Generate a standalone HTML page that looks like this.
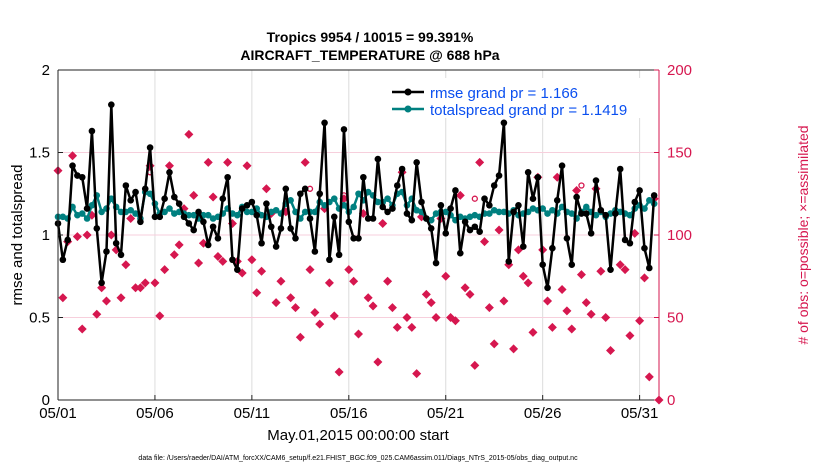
<!DOCTYPE html>
<html><head><meta charset="utf-8"><style>
body{margin:0;background:#fff;}
svg{display:block;font-family:"Liberation Sans",Arial,sans-serif;}
</style></head><body>
<svg id="chart" width="830" height="470">
<rect width="830" height="470" fill="#fff"/>
<text x="370" y="42" text-anchor="middle" font-size="14" font-weight="bold">Tropics 9954 / 10015 = 99.391%</text>
<text x="370" y="60" text-anchor="middle" font-size="14" font-weight="bold">AIRCRAFT_TEMPERATURE @ 688 hPa</text>
<g id="grid"></g>
<g id="marks"></g>
<g id="axes"></g>
<text transform="translate(22,235) rotate(-90)" text-anchor="middle" font-size="15">rmse and totalspread</text>
<text transform="translate(808,235) rotate(-90)" text-anchor="middle" font-size="14" fill="#d6174f"># of obs: o=possible; ×=assimilated</text>
<text x="358" y="440" text-anchor="middle" font-size="15">May.01,2015 00:00:00 start</text>
<text x="358" y="460" text-anchor="middle" font-size="7">data file: /Users/raeder/DAI/ATM_forcXX/CAM6_setup/f.e21.FHIST_BGC.f09_025.CAM6assim.011/Diags_NTrS_2015-05/obs_diag_output.nc</text>
<g>
<rect x="388" y="78" width="262" height="40" fill="#fff"/>
<line x1="392" y1="92" x2="424" y2="92" stroke="#000" stroke-width="2.5"/>
<circle cx="408" cy="92" r="3.5" fill="#000"/>
<text x="430" y="98" font-size="15" fill="#0a4ff0">rmse grand pr = 1.166</text>
<line x1="392" y1="109" x2="424" y2="109" stroke="#008080" stroke-width="2.5"/>
<circle cx="408" cy="109" r="3.5" fill="#008080"/>
<text x="430" y="115" font-size="15" fill="#0a4ff0">totalspread grand pr = 1.1419</text>
</g>
</svg>
<script>
const xTickLabels=["05/01","05/06","05/11","05/16","05/21","05/26","05/31"];
const xTickDays=[0,5,10,15,20,25,30];
const leftTicks=[0,0.5,1,1.5,2];
const rightTicks=[0,50,100,150,200];
const rmse=[1.07,0.85,0.97,1.42,1.36,1.35,1.16,1.63,1.04,0.71,0.9,1.79,0.95,0.88,1.3,1.21,1.26,1.08,1.28,1.53,1.11,1.11,1.22,1.38,1.23,1.19,1.11,1.07,1.03,1.14,1.08,0.94,1.05,
0.98,1.22,1.35,0.85,0.79,1.16,1.18,1.2,1.12,0.95,1.19,1.05,0.93,1.04,1.28,1.04,0.98,1.25,1.28,1.1,0.9,1.25,1.68,0.85,1.11,0.88,1.64,1.08,0.98,0.98,1.35,1.1,
1.1,1.46,1.17,1.14,1.16,1.3,1.4,1.13,1.09,1.44,1.2,1.1,1.04,0.83,1.18,1.01,1.16,1.27,0.89,1.08,1.03,1.05,1.02,1.22,1.18,1.3,1.36,1.68,0.84,1.14,1.18,0.93,1.38,
1.22,1.35,0.82,0.68,0.92,1.21,1.42,0.98,0.82,1.23,1.13,1.13,1.01,1.33,1.15,1.12,0.79,1.13,1.4,0.97,0.95,1.2,1.27,0.92,0.8,1.24];
const spread=[1.11,1.11,1.1,1.17,1.12,1.13,1.1,1.18,1.24,1.14,1.16,1.22,1.17,1.14,1.14,1.15,1.13,1.1,1.26,1.25,1.19,1.13,1.14,1.16,1.13,1.14,1.13,1.12,1.12,1.1,1.12,1.12,1.1,
1.11,1.13,1.16,1.13,1.12,1.17,1.14,1.14,1.16,1.12,1.11,1.14,1.15,1.13,1.19,1.21,1.14,1.1,1.14,1.14,1.14,1.2,1.18,1.2,1.22,1.16,1.18,1.14,1.17,1.25,1.21,1.26,
1.24,1.2,1.2,1.22,1.18,1.25,1.26,1.18,1.22,1.15,1.14,1.1,1.09,1.13,1.14,1.14,1.12,1.09,1.11,1.1,1.11,1.12,1.11,1.13,1.13,1.15,1.14,1.14,1.13,1.15,1.12,1.13,1.14,
1.16,1.15,1.16,1.13,1.15,1.13,1.17,1.14,1.13,1.1,1.14,1.17,1.14,1.12,1.14,1.11,1.13,1.15,1.14,1.13,1.12,1.16,1.18,1.16,1.21,1.19];
const obs=[139,62,96,148,99,43,100,112,52,68,60,100,91,62,82,110,68,68,71,142,71,51,79,142,88,94,116,161,124,83,95,144,123,
87,84,144,107,84,77,142,85,65,78,128,113,59,72,114,62,56,38,144,79,53,46,116,71,51,17,122,79,72,40,113,62,
57,23,107,72,56,44,138,50,44,16,111,64,59,50,110,75,50,48,124,68,64,21,144,96,56,34,103,60,82,31,91,75,71,
41,135,91,60,44,135,67,54,43,127,76,59,52,128,78,50,30,113,82,79,39,101,48,74,14,122,0];
const possibleIdx=[19,52,59,86,108];
const possibleVal=[138,128,124,122,130];

const NS="http://www.w3.org/2000/svg";
const X0=58,X1=659,Y0=400,Y1=70;
const xs=d=>X0+d/31*(X1-X0);
const yl=v=>Y0-v/2*(Y0-Y1);
const yr=v=>Y0-v/200*(Y0-Y1);
const day=i=>i*0.25;
function mk(tag,attrs,parent){const e=document.createElementNS(NS,tag);for(const k in attrs)e.setAttribute(k,attrs[k]);parent.appendChild(e);return e;}
const grid=document.getElementById('grid'),marks=document.getElementById('marks'),axes=document.getElementById('axes');
mk('rect',{x:X0,y:Y1,width:X1-X0,height:Y0-Y1,fill:'#fff'},grid);
xTickDays.forEach(d=>{const l=mk('line',{x1:xs(d),x2:xs(d),y1:Y1,y2:Y0,stroke:'#dcdcdc','stroke-width':1},grid);

});
rightTicks.slice(1,4).forEach(v=>{const l=mk('line',{x1:X0,x2:X1,y1:yr(v),y2:yr(v),stroke:'#f7cfdc','stroke-width':1},grid);

});
function diamond(x,y){const p=mk('path',{d:`M${x} ${y-4.5}L${x+4.5} ${y}L${x} ${y+4.5}L${x-4.5} ${y}Z`,fill:'#d6174f'},marks);return p;}
obs.forEach((v,i)=>{const p=diamond(xs(day(i)),yr(v));

});
possibleIdx.forEach((idx,k)=>{const c=mk('circle',{cx:xs(day(idx)),cy:yr(possibleVal[k]),r:2.5,fill:'none',stroke:'#d6174f','stroke-width':1.3},marks);

});
function series(arr,color,name){
const pl=mk('polyline',{points:arr.map((v,i)=>xs(day(i))+','+yl(v)).join(' '),fill:'none',stroke:color,'stroke-width':2.5,'stroke-linejoin':'round'},marks);


arr.forEach((v,i)=>{const c=mk('circle',{cx:xs(day(i)),cy:yl(v),r:3.3,fill:color},marks);

});}
series(spread,'#008080','totalspread');
series(rmse,'#000','rmse');
mk('line',{x1:X0,x2:X0,y1:Y1,y2:Y0,stroke:'#222','stroke-width':1},axes);
mk('line',{x1:X0,x2:X1,y1:Y0,y2:Y0,stroke:'#222','stroke-width':1},axes);
mk('line',{x1:X0,x2:X1,y1:Y1,y2:Y1,stroke:'#222','stroke-width':1},axes);
mk('line',{x1:X1,x2:X1,y1:Y1,y2:Y0,stroke:'#d6174f','stroke-width':1},axes);
xTickDays.forEach((d,i)=>{mk('line',{x1:xs(d),x2:xs(d),y1:Y0,y2:Y0-5,stroke:'#222'},axes);
const t=mk('text',{x:xs(d),y:Y0+18,'text-anchor':'middle','font-size':15},axes);t.textContent=xTickLabels[i];

});
leftTicks.forEach(v=>{mk('line',{x1:X0,x2:X0+5,y1:yl(v),y2:yl(v),stroke:'#222'},axes);
const t=mk('text',{x:X0-8,y:yl(v)+5,'text-anchor':'end','font-size':15},axes);t.textContent=String(v);

});
rightTicks.forEach(v=>{mk('line',{x1:X1,x2:X1-5,y1:yr(v),y2:yr(v),stroke:'#d6174f'},axes);
const t=mk('text',{x:X1+8,y:yr(v)+5,'font-size':15,fill:'#d6174f'},axes);t.textContent=String(v);

});
</script>
</body></html>
